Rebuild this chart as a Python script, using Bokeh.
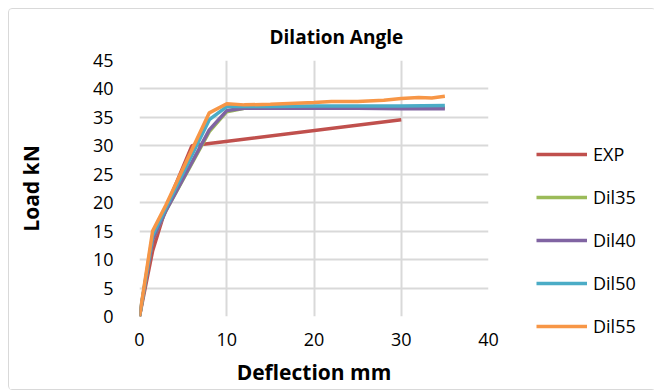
from bokeh.plotting import figure
from bokeh.models import Legend, LegendItem, Range1d, FixedTicker, Title
from bokeh.layouts import row, column
from bokeh.embed import file_html
from bokeh.resources import INLINE

# ---- data ----
exp_x = [0, 1.5, 3, 6, 8, 30]
exp_y = [0, 11.5, 19, 30, 30.4, 34.6]

dil_x = [0, 1.5, 3, 8, 10, 12, 15, 20, 25, 30, 35]
dil35_y = [0, 13.5, 18.5, 32.5, 36.0, 36.6, 36.6, 36.7, 36.7, 36.7, 36.7]
dil40_y = [0, 13.5, 18.5, 32.8, 36.2, 36.6, 36.6, 36.6, 36.6, 36.5, 36.5]
dil50_y = [0, 14.2, 19.0, 34.6, 36.9, 36.9, 36.9, 37.0, 37.0, 37.0, 37.1]

dil55_x = [0, 1.5, 3, 8, 10, 12, 15, 20, 22, 25, 28, 30, 32, 33.5, 35]
dil55_y = [0, 15.0, 19.5, 35.8, 37.4, 37.2, 37.3, 37.6, 37.8, 37.8, 38.0, 38.3, 38.5, 38.4, 38.7]

series_names = ["EXP", "Dil35", "Dil40", "Dil50", "Dil55"]
x_ticks = [0, 10, 20, 30, 40]
y_ticks = [0, 5, 10, 15, 20, 25, 30, 35, 40, 45]

colors = ["#C0504D", "#9BBB59", "#8064A2", "#4BACC6", "#F79646"]
FONT = "Open Sans"

W1 = 509
H = 380
TOP = 51
BOTTOM = H - TOP - 256
p = figure(width=W1, height=H, x_range=Range1d(0, 40), y_range=Range1d(0, 45),
           output_backend="svg", toolbar_location=None,
           min_border_left=130, min_border_right=W1 - 130 - 349,
           min_border_top=TOP, min_border_bottom=BOTTOM,
           title="Dilation Angle")
p.outline_line_color = None
p.background_fill_color = "white"
p.border_fill_color = "white"

p.title.text_font = FONT
p.title.text_font_style = "bold"
p.title.text_font_size = "19px"
p.title.align = "left"
p.title.offset = 130
p.title.text_color = "#000000"
spacer = Title(text=" ", text_font_size="1px")
if "standoff" in spacer.properties():
    spacer.standoff = 3
p.add_layout(spacer, "above")

p.xaxis.ticker = FixedTicker(ticks=x_ticks)
p.yaxis.ticker = FixedTicker(ticks=y_ticks)
for ax in (p.xaxis[0], p.yaxis[0]):
    ax.axis_line_color = None
    ax.major_tick_line_color = None
    ax.minor_tick_line_color = None
    ax.major_label_text_font = FONT
    ax.major_label_text_font_size = "18px"
    ax.major_label_text_color = "#000000"
    ax.axis_label_text_font = FONT
    ax.axis_label_text_font_style = "bold"
    ax.axis_label_text_font_size = "21px"
    ax.axis_label_text_color = "#000000"
p.xaxis.axis_label = "Deflection mm"
p.yaxis.axis_label = "Load kN"
p.xaxis.major_label_standoff = 10
p.xaxis.axis_label_standoff = 9
p.yaxis.major_label_standoff = 20
p.yaxis.axis_label_standoff = 45

p.grid.grid_line_color = "#d9d9d9"
p.grid.grid_line_width = 2
p.xgrid.ticker = FixedTicker(ticks=x_ticks)
p.ygrid.ticker = FixedTicker(ticks=y_ticks)

r_exp = p.line(exp_x, exp_y, color=colors[0], line_width=3.5)
r35 = p.line(dil_x, dil35_y, color=colors[1], line_width=3.5)
r40 = p.line(dil_x, dil40_y, color=colors[2], line_width=3.5)
r50 = p.line(dil_x, dil50_y, color=colors[3], line_width=3.5)
r55 = p.line(dil55_x, dil55_y, color=colors[4], line_width=3.5)

# legend panel (key only); the key lines reuse the series but lie outside its view
p2 = figure(width=646 - W1, height=H, x_axis_type=None, y_axis_type=None,
            x_range=Range1d(1000, 1001), y_range=Range1d(1000, 1001),
            output_backend="svg", toolbar_location=None,
            min_border_left=0, min_border_right=0, min_border_top=0, min_border_bottom=0)
p2.outline_line_color = None
p2.grid.visible = False
p2.background_fill_color = "white"
p2.border_fill_color = "white"
key_data = [(exp_x, exp_y), (dil_x, dil35_y), (dil_x, dil40_y), (dil_x, dil50_y), (dil55_x, dil55_y)]
keys = [p2.line(xs, ys, color=c, line_width=3.5) for (xs, ys), c in zip(key_data, colors)]

legend = Legend(items=[LegendItem(label=n, renderers=[r]) for n, r in zip(series_names, keys)],
                location=(18, 51), padding=0, margin=0, spacing=19,
                glyph_width=51, glyph_height=24, label_height=24, label_standoff=6,
                label_text_font=FONT, label_text_font_size="18px", label_text_color="#000000",
                border_line_color=None, background_fill_alpha=0)
p2.add_layout(legend, "center")

layout = row(p, column(p2))
layout.margin = (8, 0, 0, 8)
layout.styles = {"border": "1px solid #d9d9d9", "border-radius": "4px"}

open("out.html", "w").write(file_html(layout, INLINE))
